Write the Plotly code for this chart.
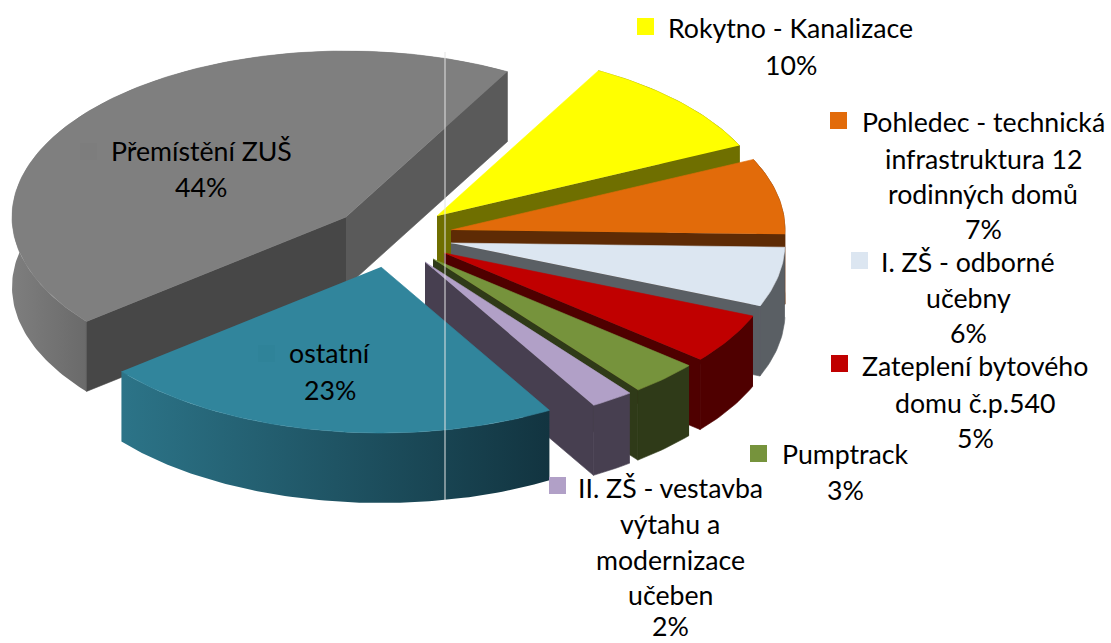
import numpy as np
import plotly.graph_objects as go

# --- data (clockwise from the large grey slice) ---
categories = ["Přemístění ZUŠ", "Rokytno - Kanalizace",
              "Pohledec - technická infrastruktura 12 rodinných domů", "I. ZŠ - odborné učebny",
              "Zateplení bytového domu č.p.540", "Pumptrack",
              "II. ZŠ - vestavba výtahu a modernizace učeben", "ostatní"]
values = [43.9, 10.0, 7.4, 5.8, 4.9, 3.4, 2.1, 22.6]
percent_labels = ["44%", "10%", "7%", "6%", "5%", "3%", "2%", "23%"]

# --- style / layout ---
FONT = "Lato, Carlito, Calibri, sans-serif"
FONT_SIZE = 26.7
START_ANGLE = 231.0
RX, RY, DEPTH = 334.0, 166.0, 70.0
apex = [(346, 217), (437, 216), (451, 230), (451, 243), (444, 253), (433, 259), (425, 262), (381, 267)]
top_colors = ["#7F7F7F", "#FFFF00", "#E26B0A", "#DCE6F1", "#C00000", "#76933C", "#B1A0C7", "#31859C"]
wall_colors = ["#5A5A5A", "#6F6F00", "#5E2B05", "#5A5F64", "#4F0000", "#2F3A18", "#473F50", "#1B4A57"]
start_wall_override = {0: "#474747"}
outer_gradient = {0: [[0, "#7E7E7E"], [0.15, "#6A6A6A"], [1, "#6A6A6A"]],
                  7: [[0, "#2C7488"], [1, "#123440"]]}

legend_keys = [(637, 18, "#FFFF00"), (830, 112, "#E26B0A"), (851, 252, "#DCE6F1"), (831, 355, "#C00000"),
               (750, 445, "#76933C"), (549, 477, "#B1A0C7"), (80, 143, "#7D7D7D"), (258, 345, "#2F8399")]
KEY = 17

label_blocks = [
    (790.5, [("Rokytno - Kanalizace", 28), (percent_labels[1], 65)]),
    (983, [("Pohledec - technická", 122), ("infrastruktura 12", 159), ("rodinných domů", 194), (percent_labels[2], 229)]),
    (968, [("I. ZŠ - odborné", 262), ("učebny", 298), (percent_labels[3], 333)]),
    (975, [("Zateplení bytového", 366), ("domu č.p.540", 403), (percent_labels[4], 438)]),
    (845, [("Pumptrack", 454), (percent_labels[5], 490)]),
    (670, [("II. ZŠ - vestavba", 488), ("výtahu a", 524), ("modernizace", 560), ("učeben", 595), (percent_labels[6], 626)]),
    (201, [("Přemístění ZUŠ", 151), (percent_labels[0], 187)]),
    (330, [("ostatní", 353), (percent_labels[7], 390)]),
]

# --- geometry derived from the values ---
total = sum(values)
edges = [START_ANGLE]
for v in values:
    edges.append(edges[-1] + v / total * 360.0)


def pt(c, deg):
    t = np.radians(deg)
    return c[0] + RX * np.sin(t), c[1] - RY * np.cos(t)


def poly(name, xs, ys, color=None, gradient=None):
    if gradient is None:
        kw = dict(fillcolor=color, line=dict(width=0.6, color=color))
    else:
        kw = dict(fillgradient=dict(type="horizontal", colorscale=gradient), line=dict(width=0))
    return go.Scatter(x=list(xs), y=list(ys), mode="lines", fill="toself", name=name,
                      hoverinfo="skip", showlegend=False, **kw)


fig = go.Figure()
for i in range(len(values)):
    c = apex[i]
    a1, a2 = edges[i], edges[i + 1]
    arc = np.arange(a1, a2, 1.0).tolist() + [a2]
    ax, ay = pt(c, np.array(arc))
    # outer wall
    fig.add_trace(poly(categories[i] + " wall",
                       np.r_[ax, ax[::-1]], np.r_[ay, ay[::-1] + DEPTH],
                       color=wall_colors[i], gradient=outer_gradient.get(i)))
    # cut walls that face the viewer
    if -np.cos(np.radians(a1 - 90)) > 0:
        ex, ey = pt(c, a1)
        fig.add_trace(poly(categories[i] + " cut",
                           [c[0], ex, ex, c[0]], [c[1], ey, ey + DEPTH, c[1] + DEPTH],
                           color=start_wall_override.get(i, wall_colors[i])))
    if -np.cos(np.radians(a2 + 90)) > 0:
        ex, ey = pt(c, a2)
        fig.add_trace(poly(categories[i] + " cut",
                           [c[0], ex, ex, c[0]], [c[1], ey, ey + DEPTH, c[1] + DEPTH],
                           color=wall_colors[i]))
    # top face
    fig.add_trace(poly(categories[i], np.r_[c[0], ax], np.r_[c[1], ay], color=top_colors[i]))

shapes = [dict(type="line", xref="x", yref="y", x0=445, x1=445, y0=52, y1=500,
               line=dict(color="#E4E4E4", width=1), layer="above")]
for x, y, col in legend_keys:
    shapes.append(dict(type="rect", xref="x", yref="y", x0=x, x1=x + KEY, y0=y, y1=y + KEY,
                       fillcolor=col, line=dict(width=0), layer="above"))

annotations = []
for cx, lines in label_blocks:
    for text, y in lines:
        annotations.append(dict(x=cx, y=y, xref="x", yref="y", text=text, showarrow=False,
                                xanchor="center", yanchor="middle",
                                font=dict(family=FONT, size=FONT_SIZE, color="#000000")))

fig.update_layout(
    width=1111, height=643, autosize=False,
    margin=dict(l=0, r=0, t=0, b=0),
    paper_bgcolor="white", plot_bgcolor="white", showlegend=False,
    xaxis=dict(range=[0, 1111], visible=False, fixedrange=True),
    yaxis=dict(range=[643, 0], visible=False, fixedrange=True),
    shapes=shapes, annotations=annotations,
)

fig.write_html("out.html", config={"displayModeBar": False},
               post_script="document.body.style.margin='0';document.body.style.overflow='hidden';")
